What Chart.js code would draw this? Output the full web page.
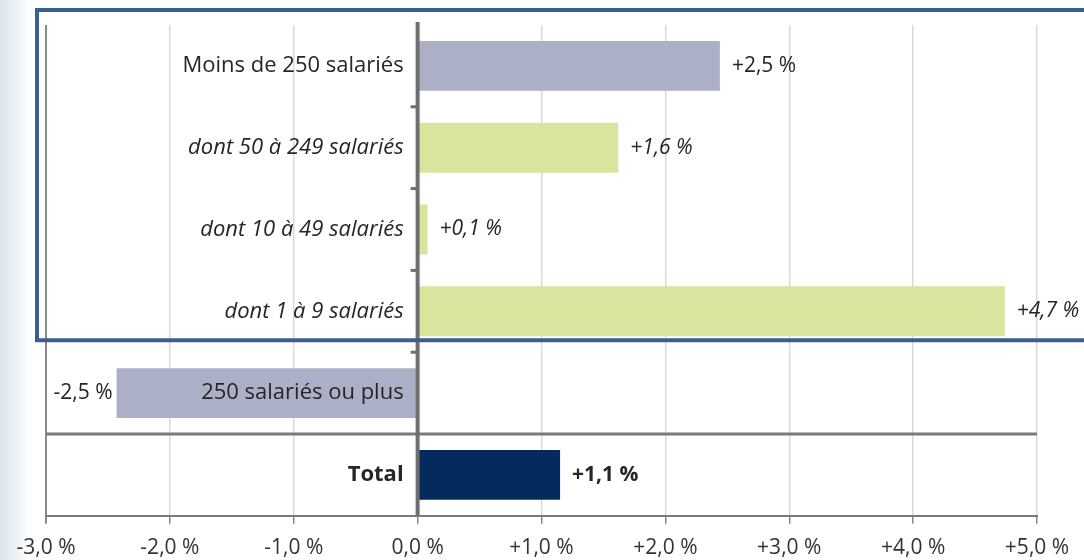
<!DOCTYPE html>
<html>
<head>
<meta charset="utf-8">
<script src="https://cdn.jsdelivr.net/npm/chart.js@4"></script>
<style>
  html, body { margin: 0; padding: 0; }
  body {
    width: 1084px; height: 560px; overflow: hidden;
    background: linear-gradient(to right, #dbe6ee 0px, #eef3f7 18px, #ffffff 30px);
  }
  #wrap { position: absolute; left: 0; top: 0; width: 1084px; height: 573px; }
</style>
</head>
<body>
<div id="wrap"><canvas id="chart"></canvas></div>
<script>
const categories = [
    "Moins de 250 salariés",
    "dont 50 à 249 salariés",
    "dont 10 à 49 salariés",
    "dont 1 à 9 salariés",
    "250 salariés ou plus",
    "Total"
];
const values = [2.44, 1.62, 0.08, 4.74, -2.43, 1.15];
const valueLabels = ["+2,5 %", "+1,6 %", "+0,1 %", "+4,7 %", "-2,5 %", "+1,1 %"];
const labelStyles = ["normal", "italic", "italic", "italic", "normal", "bold"];
const barColors = ["#abb0c6", "#d8e59e", "#d8e59e", "#d8e59e", "#abb0c6", "#052a5e"];
const xTicks = [-3, -2, -1, 0, 1, 2, 3, 4, 5];

const FONT = "'Open Sans', 'Liberation Sans', sans-serif";

function fontFor(i, size) {
    const s = labelStyles[i];
    if (s === "bold") return "bold " + size + "px " + FONT;
    if (s === "italic") return "italic " + size + "px " + FONT;
    return size + "px " + FONT;
}

function fmtTick(v) {
    const s = Math.abs(v).toFixed(1).replace(".", ",") + " %";
    if (v > 0) return "+" + s;
    if (v < 0) return "-" + s;
    return s;
}

// labels, value labels, zero-axis stubs and the blue frame
const decorPlugin = {
    id: "decor",
    afterDatasetsDraw(chart) {
        const { ctx, chartArea } = chart;
        const x = chart.scales.x;
        const y = chart.scales.y;
        const meta = chart.getDatasetMeta(0);
        const zero = x.getPixelForValue(0);
        const step = y.getPixelForValue(1) - y.getPixelForValue(0);

        ctx.save();
        // separator between detail rows and total
        ctx.strokeStyle = "#7b7b7b";
        ctx.lineWidth = 3;
        const sepY = (y.getPixelForValue(4) + y.getPixelForValue(5)) / 2;
        ctx.beginPath();
        ctx.moveTo(chartArea.left, sepY);
        ctx.lineTo(chartArea.right, sepY);
        ctx.stroke();

        // zero axis
        ctx.strokeStyle = "#6e6e6e";
        ctx.lineWidth = 4;
        ctx.beginPath();
        ctx.moveTo(zero, chartArea.top - 3);
        ctx.lineTo(zero, chartArea.bottom);
        ctx.stroke();
        ctx.lineWidth = 3;
        for (let i = 0; i < categories.length - 2; i++) {
            const by = y.getPixelForValue(i) + step / 2;
            ctx.beginPath();
            ctx.moveTo(zero - 7, by);
            ctx.lineTo(zero, by);
            ctx.stroke();
        }

        // category labels, right aligned left of zero
        ctx.fillStyle = "#262626";
        ctx.textBaseline = "middle";
        categories.forEach((c, i) => {
            const py = y.getPixelForValue(i);
            ctx.font = fontFor(i, 22);
            ctx.textAlign = "right";
            ctx.fillText(c, zero - 14, py);
        });

        // value labels
        values.forEach((v, i) => {
            const bar = meta.data[i];
            ctx.font = fontFor(i, 21);
            if (v >= 0) {
                ctx.textAlign = "left";
                ctx.fillText(valueLabels[i], bar.x + 12, bar.y);
            } else {
                ctx.textAlign = "right";
                ctx.fillText(valueLabels[i], bar.x - 4, bar.y);
            }
        });

        // blue frame around the detail rows
        const half = meta.data[3].height / 2;
        ctx.strokeStyle = "#3b5f8e";
        ctx.lineWidth = 4;
        const fl = chartArea.left - 9;
        const ft = chartArea.top - 15;
        const fb = meta.data[3].y + half + 4;
        ctx.strokeRect(fl, ft, chart.width + 20 - fl, fb - ft);
        ctx.restore();
    }
};

new Chart(document.getElementById("chart"), {
    type: "bar",
    data: {
        labels: categories,
        datasets: [{
            data: values,
            backgroundColor: barColors,
            borderWidth: 0,
            barPercentage: 0.61,
            categoryPercentage: 1
        }]
    },
    options: {
        indexAxis: "y",
        responsive: true,
        maintainAspectRatio: false,
        animation: false,
        layout: { padding: { left: 46, right: 47, top: 25, bottom: 0 } },
        plugins: { legend: { display: false }, tooltip: { enabled: false } },
        scales: {
            x: {
                min: -3,
                max: 5,
                afterBuildTicks(scale) {
                    scale.ticks = xTicks.map(v => ({ value: v }));
                },
                afterFit(scale) {
                    scale.paddingLeft = 0;
                    scale.paddingRight = 0;
                },
                grid: {
                    color: ctx => ctx.tick && ctx.tick.value === -3 ? "#8a8a8a" : "#d9d9d9",
                    lineWidth: ctx => ctx.tick && ctx.tick.value === -3 ? 2 : 1.5,
                    tickColor: "#8a8a8a",
                    tickLength: 8,
                    drawOnChartArea: true
                },
                border: { color: "#7b7b7b", width: 2 },
                ticks: {
                    color: "#333333",
                    font: { family: FONT, size: 21 },
                    padding: 12,
                    maxRotation: 0,
                    callback: v => fmtTick(v)
                }
            },
            y: {
                display: false,
                grid: { display: false }
            }
        }
    },
    plugins: [decorPlugin]
});
</script>
</body>
</html>
